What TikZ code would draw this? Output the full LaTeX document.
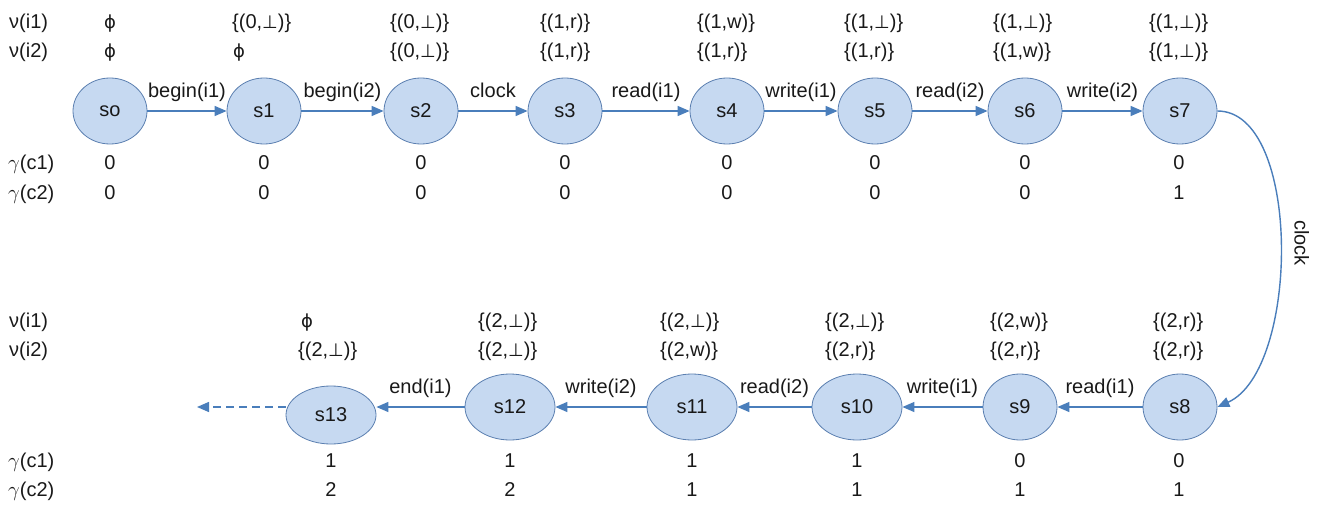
\documentclass[tikz,border=0pt]{standalone}
\usepackage{fontspec}
\setmainfont{Liberation Sans}
\newfontfamily\symfont{DejaVu Sans}
\usetikzlibrary{arrows.meta,shapes.geometric}
\newcommand{\bt}{{\symfont\fontsize{18}{20}\selectfont ⊥}}
\newcommand{\emp}{{\symfont\fontsize{18}{20}\selectfont ϕ}}
\newcommand{\gm}{\ensuremath{\gamma}}
\definecolor{nodefill}{HTML}{C6D9F1}
\definecolor{nodeline}{HTML}{5B7FB0}
\definecolor{arrowc}{HTML}{4A7EBB}
\begin{document}
\begin{tikzpicture}[x=1pt,y=-1pt,
  every node/.style={font=\fontsize{20}{24}\selectfont, text=black!90},
  st/.style={ellipse, draw=nodeline, fill=nodefill, line width=0.8pt, minimum width=74pt, minimum height=66pt, inner sep=0pt},
  stw/.style={st, minimum width=90pt, minimum height=66pt},
  arr/.style={draw=arrowc, line width=1.4pt, -{Triangle[length=12pt,width=10pt]}},
  elab/.style={above=8pt, inner sep=1pt, text height=15pt, text depth=4pt},
  val/.style={anchor=base west, inner sep=0pt},
  num/.style={anchor=base, inner sep=0pt}]
\useasboundingbox (0,0) rectangle (1332,505);

% top row states
\node[st] (s0) at (110,111) {so};
\node[st] (s1) at (264,111) {s1};
\node[st] (s2) at (421,111) {s2};
\node[st] (s3) at (565,111) {s3};
\node[st] (s4) at (727,111) {s4};
\node[st] (s5) at (875,111) {s5};
\node[st] (s6) at (1025,111) {s6};
\node[st] (s7) at (1180,111) {s7};
% bottom row states
\node[st] (s8) at (1180,407) {s8};
\node[st] (s9) at (1020,407) {s9};
\node[stw] (s10) at (857,407) {s10};
\node[stw] (s11) at (692,407) {s11};
\node[stw] (s12) at (510,407) {s12};
\node[stw, minimum height=58pt] (s13) at (331,415) {s13};
\coordinate (out) at (197,407);

% edges
\draw[arr] (s0) -- node[elab] {begin(i1)} (s1);
\draw[arr] (s1) -- node[elab] {begin(i2)} (s2);
\draw[arr] (s2) -- node[elab] {clock} (s3);
\draw[arr] (s3) -- node[elab] {read(i1)} (s4);
\draw[arr] (s4) -- node[elab] {write(i1)} (s5);
\draw[arr] (s5) -- node[elab] {read(i2)} (s6);
\draw[arr] (s6) -- node[elab] {write(i2)} (s7);
\draw[arr] (s7.east) .. controls (1302,111) and (1300,370) .. coordinate[pos=0.5] (mid) (s8.east);
\node[rotate=-90, anchor=south, inner sep=0pt] (clk) at ([xshift=14pt,yshift=2pt]mid) {clock};
\draw[arr] (s8) -- node[elab] {read(i1)} (s9);
\draw[arr] (s9) -- node[elab] {write(i1)} (s10);
\draw[arr] (s10) -- node[elab] {read(i2)} (s11);
\draw[arr] (s11) -- node[elab] {write(i2)} (s12);
\draw[arr] (s12.west |- 0,407) -- node[elab] {end(i1)} (s13.east |- 0,407);
\draw[arr, dashed, dash pattern=on 8pt off 5pt] (s13.west |- 0,407) -- (out);

% row labels top
\node[val] (lv1a) at (9,29) {ν(i1)};
\node[val] (lv2a) at (9,58) {ν(i2)};
\node[val] (lg1a) at (8,170) {\gm(c1)};
\node[val] (lg2a) at (8,199) {\gm(c2)};
% row labels bottom
\node[val] (lv1b) at (9,327) {ν(i1)};
\node[val] (lv2b) at (9,356) {ν(i2)};
\node[val] (lg1b) at (8,467) {\gm(c1)};
\node[val] (lg2b) at (8,496) {\gm(c2)};

% top values
\node[num] (v0a) at (110,29) {\emp};
\node[num] (v0b) at (110,58) {\emp};
\node[val] (v1a) at (232,29) {\{(0,\bt)\}};
\node[val] (v1b) at (233,58) {\emp};
\node[val] (v2a) at (390,29) {\{(0,\bt)\}};
\node[val] (v2b) at (390,58) {\{(0,\bt)\}};
\node[val] (v3a) at (540,29) {\{(1,r)\}};
\node[val] (v3b) at (540,58) {\{(1,r)\}};
\node[val] (v4a) at (697,29) {\{(1,w)\}};
\node[val] (v4b) at (697,58) {\{(1,r)\}};
\node[val] (v5a) at (844,29) {\{(1,\bt)\}};
\node[val] (v5b) at (844,58) {\{(1,r)\}};
\node[val] (v6a) at (993,29) {\{(1,\bt)\}};
\node[val] (v6b) at (993,58) {\{(1,w)\}};
\node[val] (v7a) at (1149,29) {\{(1,\bt)\}};
\node[val] (v7b) at (1149,58) {\{(1,\bt)\}};

% top counters
\foreach \x/\a/\b [count=\i] in {110/0/0,264/0/0,421/0/0,565/0/0,727/0/0,875/0/0,1025/0/0,1179/0/1}{
  \node[num] (ga\i) at (\x,170) {\a};
  \node[num] (gb\i) at (\x,199) {\b};
}

% bottom values
\node[val] (v8a) at (1153,327) {\{(2,r)\}};
\node[val] (v8b) at (1153,356) {\{(2,r)\}};
\node[val] (v9a) at (990,327) {\{(2,w)\}};
\node[val] (v9b) at (990,356) {\{(2,r)\}};
\node[val] (v10a) at (825,327) {\{(2,\bt)\}};
\node[val] (v10b) at (825,356) {\{(2,r)\}};
\node[val] (v11a) at (660,327) {\{(2,\bt)\}};
\node[val] (v11b) at (660,356) {\{(2,w)\}};
\node[val] (v12a) at (478,327) {\{(2,\bt)\}};
\node[val] (v12b) at (478,356) {\{(2,\bt)\}};
\node[val] (v13a) at (301,327) {\emp};
\node[val] (v13b) at (298,356) {\{(2,\bt)\}};

% bottom counters
\foreach \x/\a/\b [count=\i] in {1179/0/1,1020/0/1,857/1/1,692/1/1,510/1/2,331/1/2}{
  \node[num] (gc\i) at (\x,467) {\a};
  \node[num] (gd\i) at (\x,496) {\b};
}
\end{tikzpicture}
\end{document}
